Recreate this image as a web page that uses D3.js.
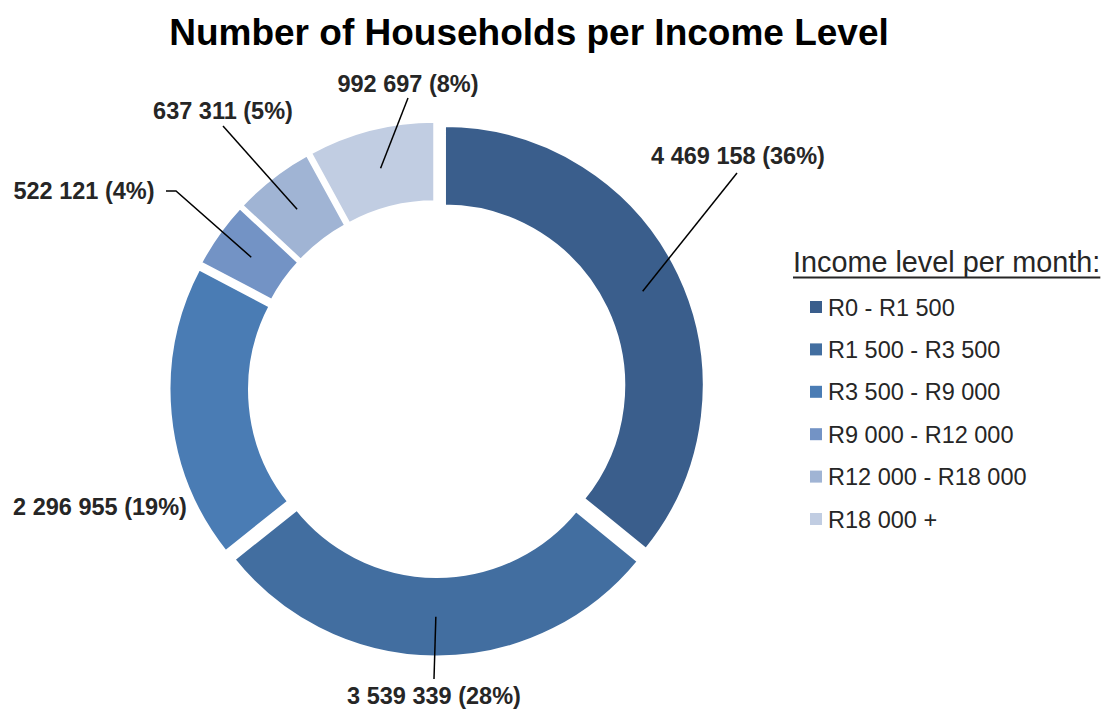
<!DOCTYPE html>
<html>
<head>
<meta charset="utf-8">
<script src="https://cdn.jsdelivr.net/npm/d3@7"></script>
<style>
  html, body { margin: 0; padding: 0; background: #fff; }
  #chart { width: 1106px; height: 710px; }
  text { font-family: "Liberation Sans", Arial, sans-serif; }
</style>
</head>
<body>
<div id="chart"></div>
<script>
// Data
const categories = ["R0 - R1 500", "R1 500 - R3 500", "R3 500 - R9 000",
                    "R9 000 - R12 000", "R12 000 - R18 000", "R18 000 +"];
const households = [4469158, 3539339, 2296955, 522121, 637311, 992697];
const shares = [36, 28, 19, 4, 5, 8];   // percentages as printed on the labels
const colors = ["#3a5e8c", "#426ea0", "#4a7cb4", "#7393c5", "#a0b4d4", "#c1cde2"];

// Hand-placed data labels (text centre, baseline) and where the leader meets them
const labelLayout = [
  {x: 738, y: 164, line: [[737, 173]]},
  {x: 434, y: 704, line: [[434, 679]]},
  {x: 100, y: 515, line: null},
  {x: 84,  y: 199, line: [[176, 191], [166, 191]]},
  {x: 223, y: 119, line: [[223, 126]]},
  {x: 408, y: 92,  line: [[408, 98]]}
];

const W = 1106, H = 710;
const cx = 437, cy = 389;
const explode = 8;

const svg = d3.select("#chart").append("svg")
  .attr("width", W).attr("height", H);

// Title
svg.append("text")
  .attr("x", 529).attr("y", 45)
  .attr("text-anchor", "middle")
  .style("font-size", "37px").style("font-weight", "bold")
  .style("fill", "#000")
  .text("Number of Households per Income Level");

const fmt = d3.formatLocale({decimal: ".", thousands: " ", grouping: [3], currency: ["R", ""]}).format(",");

const pie = d3.pie().sort(null).value(d => d)(households);
const arc = d3.arc().innerRadius(179.25).outerRadius(260.25);

function offset(d) {
  const mid = (d.startAngle + d.endAngle) / 2;
  return [Math.sin(mid) * explode, -Math.cos(mid) * explode];
}

const g = svg.append("g").attr("transform", `translate(${cx},${cy})`);

g.selectAll(".slice")
  .data(pie)
  .enter()
  .append("path")
  .attr("class", "slice")
  .attr("transform", d => `translate(${offset(d)})`)
  .attr("d", arc)
  .style("fill", (d, i) => colors[i])
  .style("stroke", "#fff")
  .style("stroke-width", 3.5)
  .style("stroke-linejoin", "miter");

// Leader lines from the slice centroid to the label
const lineGen = d3.line();
pie.forEach((d, i) => {
  const lay = labelLayout[i];
  if (!lay.line) return;
  const c = arc.centroid(d);
  const o = offset(d);
  const pts = [[cx + c[0] + o[0], cy + c[1] + o[1]]].concat(lay.line);
  svg.append("path")
    .attr("d", lineGen(pts))
    .style("fill", "none")
    .style("stroke", "#000")
    .style("stroke-width", 1.5);
});

// Data labels
svg.selectAll(".data-label")
  .data(pie)
  .enter()
  .append("text")
  .attr("class", "data-label")
  .attr("x", (d, i) => labelLayout[i].x)
  .attr("y", (d, i) => labelLayout[i].y)
  .attr("text-anchor", "middle")
  .style("font-size", "23.5px").style("font-weight", "bold")
  .style("fill", "#262626")
  .text((d, i) => `${fmt(d.data)} (${shares[i]}%)`);

// Legend
const legend = svg.append("g").attr("transform", "translate(793,0)");
const legTitle = legend.append("text")
  .attr("x", 0).attr("y", 272)
  .style("font-size", "28.8px")
  .style("fill", "#262626")
  .text("Income level per month:");
const tw = legTitle.node().getComputedTextLength();
legend.append("line")
  .attr("x1", 0).attr("x2", tw)
  .attr("y1", 277.5).attr("y2", 277.5)
  .style("stroke", "#262626").style("stroke-width", 2);

const item = legend.selectAll(".item")
  .data(categories)
  .enter()
  .append("g")
  .attr("class", "item")
  .attr("transform", (d, i) => `translate(17,${307 + i * 42.4})`);

item.append("rect")
  .attr("x", 0).attr("y", -6)
  .attr("width", 12).attr("height", 12)
  .style("fill", (d, i) => colors[i]);

item.append("text")
  .attr("x", 18).attr("y", 8.5)
  .style("font-size", "23.5px")
  .style("fill", "#262626")
  .text(d => d);
</script>
</body>
</html>
